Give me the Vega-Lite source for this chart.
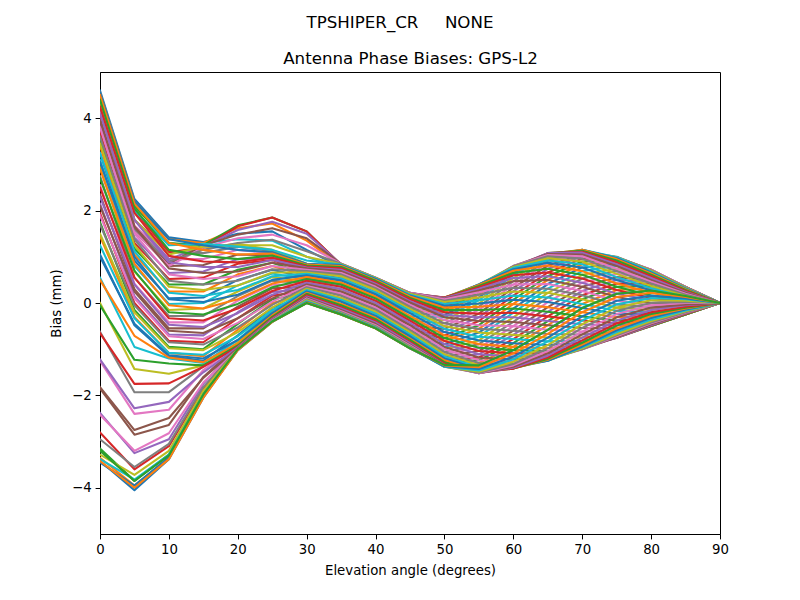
{"$schema":"https://vega.github.io/schema/vega-lite/v6.json","width":620,"height":462,"autosize":"none","padding":{"left":100,"top":72,"right":80,"bottom":66},"background":"white",
"title":{"text":"TPSHIPER_CR\u00a0\u00a0\u00a0\u00a0\u00a0NONE","anchor":"middle","frame":"group","dx":-10,"offset":18,"font":"DejaVu Sans","fontSize":16.67,"fontWeight":"normal","color":"black"},
"config":{"font":"DejaVu Sans","view":{"stroke":"black","strokeWidth":1}},
"data":{"values":[
{"k":0,"e":0,"b":-3.42},{"k":1,"e":0,"b":-3.35},{"k":2,"e":0,"b":-3.15},{"k":3,"e":0,"b":-2.8},{"k":4,"e":0,"b":-2.38},{"k":5,"e":0,"b":-1.85},{"k":6,"e":0,"b":-1.25},{"k":7,"e":0,"b":-0.62},{"k":8,"e":0,"b":0},{"k":9,"e":0,"b":0.55},{"k":10,"e":0,"b":1.05},{"k":11,"e":0,"b":1.45},{"k":12,"e":0,"b":1.75},{"k":13,"e":0,"b":1.95},{"k":14,"e":0,"b":2.15},{"k":15,"e":0,"b":2.35},{"k":16,"e":0,"b":2.55},{"k":17,"e":0,"b":2.75},{"k":18,"e":0,"b":2.95},{"k":19,"e":0,"b":3.1},{"k":20,"e":0,"b":3.25},{"k":21,"e":0,"b":3.4},{"k":22,"e":0,"b":3.55},{"k":23,"e":0,"b":3.7},{"k":24,"e":0,"b":3.85},{"k":25,"e":0,"b":4.0},{"k":26,"e":0,"b":4.15},{"k":27,"e":0,"b":4.3},{"k":28,"e":0,"b":4.4},{"k":29,"e":0,"b":4.5},{"k":30,"e":0,"b":4.6},{"k":31,"e":0,"b":4.55},{"k":32,"e":0,"b":4.5},{"k":33,"e":0,"b":4.4},{"k":34,"e":0,"b":4.3},{"k":35,"e":0,"b":4.25},{"k":36,"e":0,"b":4.2},{"k":37,"e":0,"b":4.25},{"k":38,"e":0,"b":4.35},{"k":39,"e":0,"b":4.45},{"k":40,"e":0,"b":4.55},{"k":41,"e":0,"b":4.5},{"k":42,"e":0,"b":4.4},{"k":43,"e":0,"b":4.25},{"k":44,"e":0,"b":4.1},{"k":45,"e":0,"b":3.95},{"k":46,"e":0,"b":3.8},{"k":47,"e":0,"b":3.6},{"k":48,"e":0,"b":3.45},{"k":49,"e":0,"b":3.25},{"k":50,"e":0,"b":3.05},{"k":51,"e":0,"b":2.9},{"k":52,"e":0,"b":2.7},{"k":53,"e":0,"b":2.5},{"k":54,"e":0,"b":2.3},{"k":55,"e":0,"b":2.1},{"k":56,"e":0,"b":1.9},{"k":57,"e":0,"b":1.7},{"k":58,"e":0,"b":1.5},{"k":59,"e":0,"b":1.25},{"k":60,"e":0,"b":1.0},{"k":61,"e":0,"b":0.5},{"k":62,"e":0,"b":-0.05},{"k":63,"e":0,"b":-0.65},{"k":64,"e":0,"b":-1.22},{"k":65,"e":0,"b":-1.82},{"k":66,"e":0,"b":-2.42},{"k":67,"e":0,"b":-2.95},{"k":68,"e":0,"b":-3.28},{"k":69,"e":0,"b":-3.38},{"k":70,"e":0,"b":-3.45},{"k":71,"e":0,"b":-3.42},{"k":72,"e":0,"b":-3.2},
{"k":0,"e":5,"b":-4.05},{"k":1,"e":5,"b":-3.95},{"k":2,"e":5,"b":-3.85},{"k":3,"e":5,"b":-3.6},{"k":4,"e":5,"b":-3.25},{"k":5,"e":5,"b":-2.85},{"k":6,"e":5,"b":-2.4},{"k":7,"e":5,"b":-1.93},{"k":8,"e":5,"b":-1.43},{"k":9,"e":5,"b":-0.95},{"k":10,"e":5,"b":-0.48},{"k":11,"e":5,"b":-0.3},{"k":12,"e":5,"b":-0.15},{"k":13,"e":5,"b":0},{"k":14,"e":5,"b":0.15},{"k":15,"e":5,"b":0.3},{"k":16,"e":5,"b":0.42},{"k":17,"e":5,"b":0.55},{"k":18,"e":5,"b":0.68},{"k":19,"e":5,"b":0.8},{"k":20,"e":5,"b":0.92},{"k":21,"e":5,"b":1.05},{"k":22,"e":5,"b":1.18},{"k":23,"e":5,"b":1.3},{"k":24,"e":5,"b":1.42},{"k":25,"e":5,"b":1.55},{"k":26,"e":5,"b":1.68},{"k":27,"e":5,"b":1.8},{"k":28,"e":5,"b":1.95},{"k":29,"e":5,"b":2.1},{"k":30,"e":5,"b":2.25},{"k":31,"e":5,"b":2.2},{"k":32,"e":5,"b":2.1},{"k":33,"e":5,"b":2.0},{"k":34,"e":5,"b":1.8},{"k":35,"e":5,"b":1.65},{"k":36,"e":5,"b":1.55},{"k":37,"e":5,"b":1.6},{"k":38,"e":5,"b":1.8},{"k":39,"e":5,"b":2.0},{"k":40,"e":5,"b":2.2},{"k":41,"e":5,"b":2.15},{"k":42,"e":5,"b":2.05},{"k":43,"e":5,"b":1.95},{"k":44,"e":5,"b":1.8},{"k":45,"e":5,"b":1.65},{"k":46,"e":5,"b":1.5},{"k":47,"e":5,"b":1.38},{"k":48,"e":5,"b":1.25},{"k":49,"e":5,"b":1.12},{"k":50,"e":5,"b":1.0},{"k":51,"e":5,"b":0.85},{"k":52,"e":5,"b":0.7},{"k":53,"e":5,"b":0.55},{"k":54,"e":5,"b":0.4},{"k":55,"e":5,"b":0.25},{"k":56,"e":5,"b":0.1},{"k":57,"e":5,"b":-0.05},{"k":58,"e":5,"b":-0.2},{"k":59,"e":5,"b":-0.33},{"k":60,"e":5,"b":-0.45},{"k":61,"e":5,"b":-0.71},{"k":62,"e":5,"b":-1.23},{"k":63,"e":5,"b":-1.75},{"k":64,"e":5,"b":-2.28},{"k":65,"e":5,"b":-2.75},{"k":66,"e":5,"b":-3.2},{"k":67,"e":5,"b":-3.55},{"k":68,"e":5,"b":-3.72},{"k":69,"e":5,"b":-3.82},{"k":70,"e":5,"b":-3.95},{"k":71,"e":5,"b":-4.0},{"k":72,"e":5,"b":-3.85},
{"k":0,"e":10,"b":-3.38},{"k":1,"e":10,"b":-3.35},{"k":2,"e":10,"b":-3.28},{"k":3,"e":10,"b":-3.1},{"k":4,"e":10,"b":-2.95},{"k":5,"e":10,"b":-2.64},{"k":6,"e":10,"b":-2.31},{"k":7,"e":10,"b":-1.93},{"k":8,"e":10,"b":-1.53},{"k":9,"e":10,"b":-1.2},{"k":10,"e":10,"b":-1.15},{"k":11,"e":10,"b":-1.08},{"k":12,"e":10,"b":-0.95},{"k":13,"e":10,"b":-0.82},{"k":14,"e":10,"b":-0.68},{"k":15,"e":10,"b":-0.55},{"k":16,"e":10,"b":-0.42},{"k":17,"e":10,"b":-0.28},{"k":18,"e":10,"b":-0.15},{"k":19,"e":10,"b":-0.02},{"k":20,"e":10,"b":0.1},{"k":21,"e":10,"b":0.25},{"k":22,"e":10,"b":0.4},{"k":23,"e":10,"b":0.52},{"k":24,"e":10,"b":0.65},{"k":25,"e":10,"b":0.8},{"k":26,"e":10,"b":0.95},{"k":27,"e":10,"b":1.1},{"k":28,"e":10,"b":1.3},{"k":29,"e":10,"b":1.4},{"k":30,"e":10,"b":1.42},{"k":31,"e":10,"b":1.38},{"k":32,"e":10,"b":1.3},{"k":33,"e":10,"b":1.1},{"k":34,"e":10,"b":0.95},{"k":35,"e":10,"b":0.85},{"k":36,"e":10,"b":0.8},{"k":37,"e":10,"b":0.9},{"k":38,"e":10,"b":1.05},{"k":39,"e":10,"b":1.25},{"k":40,"e":10,"b":1.38},{"k":41,"e":10,"b":1.3},{"k":42,"e":10,"b":1.15},{"k":43,"e":10,"b":1.02},{"k":44,"e":10,"b":0.88},{"k":45,"e":10,"b":0.75},{"k":46,"e":10,"b":0.62},{"k":47,"e":10,"b":0.48},{"k":48,"e":10,"b":0.35},{"k":49,"e":10,"b":0.22},{"k":50,"e":10,"b":0.08},{"k":51,"e":10,"b":-0.05},{"k":52,"e":10,"b":-0.2},{"k":53,"e":10,"b":-0.33},{"k":54,"e":10,"b":-0.47},{"k":55,"e":10,"b":-0.6},{"k":56,"e":10,"b":-0.72},{"k":57,"e":10,"b":-0.85},{"k":58,"e":10,"b":-0.98},{"k":59,"e":10,"b":-1.08},{"k":60,"e":10,"b":-1.13},{"k":61,"e":10,"b":-1.18},{"k":62,"e":10,"b":-1.31},{"k":63,"e":10,"b":-1.74},{"k":64,"e":10,"b":-2.14},{"k":65,"e":10,"b":-2.49},{"k":66,"e":10,"b":-2.82},{"k":67,"e":10,"b":-3.05},{"k":68,"e":10,"b":-3.2},{"k":69,"e":10,"b":-3.28},{"k":70,"e":10,"b":-3.34},{"k":71,"e":10,"b":-3.38},{"k":72,"e":10,"b":-3.3},
{"k":0,"e":15,"b":-2.05},{"k":1,"e":15,"b":-2.0},{"k":2,"e":15,"b":-1.95},{"k":3,"e":15,"b":-1.85},{"k":4,"e":15,"b":-1.75},{"k":5,"e":15,"b":-1.6},{"k":6,"e":15,"b":-1.45},{"k":7,"e":15,"b":-1.37},{"k":8,"e":15,"b":-1.35},{"k":9,"e":15,"b":-1.3},{"k":10,"e":15,"b":-1.25},{"k":11,"e":15,"b":-1.15},{"k":12,"e":15,"b":-1.0},{"k":13,"e":15,"b":-0.85},{"k":14,"e":15,"b":-0.7},{"k":15,"e":15,"b":-0.55},{"k":16,"e":15,"b":-0.42},{"k":17,"e":15,"b":-0.28},{"k":18,"e":15,"b":-0.12},{"k":19,"e":15,"b":0},{"k":20,"e":15,"b":0.12},{"k":21,"e":15,"b":0.25},{"k":22,"e":15,"b":0.4},{"k":23,"e":15,"b":0.55},{"k":24,"e":15,"b":0.68},{"k":25,"e":15,"b":0.82},{"k":26,"e":15,"b":0.95},{"k":27,"e":15,"b":1.08},{"k":28,"e":15,"b":1.2},{"k":29,"e":15,"b":1.3},{"k":30,"e":15,"b":1.32},{"k":31,"e":15,"b":1.3},{"k":32,"e":15,"b":1.25},{"k":33,"e":15,"b":1.2},{"k":34,"e":15,"b":1.22},{"k":35,"e":15,"b":1.25},{"k":36,"e":15,"b":1.2},{"k":37,"e":15,"b":1.15},{"k":38,"e":15,"b":1.22},{"k":39,"e":15,"b":1.28},{"k":40,"e":15,"b":1.25},{"k":41,"e":15,"b":1.15},{"k":42,"e":15,"b":1.02},{"k":43,"e":15,"b":0.9},{"k":44,"e":15,"b":0.78},{"k":45,"e":15,"b":0.65},{"k":46,"e":15,"b":0.52},{"k":47,"e":15,"b":0.4},{"k":48,"e":15,"b":0.28},{"k":49,"e":15,"b":0.15},{"k":50,"e":15,"b":0.02},{"k":51,"e":15,"b":-0.12},{"k":52,"e":15,"b":-0.25},{"k":53,"e":15,"b":-0.38},{"k":54,"e":15,"b":-0.52},{"k":55,"e":15,"b":-0.65},{"k":56,"e":15,"b":-0.78},{"k":57,"e":15,"b":-0.9},{"k":58,"e":15,"b":-1.02},{"k":59,"e":15,"b":-1.12},{"k":60,"e":15,"b":-1.2},{"k":61,"e":15,"b":-1.28},{"k":62,"e":15,"b":-1.35},{"k":63,"e":15,"b":-1.38},{"k":64,"e":15,"b":-1.5},{"k":65,"e":15,"b":-1.62},{"k":66,"e":15,"b":-1.72},{"k":67,"e":15,"b":-1.82},{"k":68,"e":15,"b":-1.9},{"k":69,"e":15,"b":-1.98},{"k":70,"e":15,"b":-2.02},{"k":71,"e":15,"b":-2.05},{"k":72,"e":15,"b":-1.98},
{"k":0,"e":20,"b":-1.0},{"k":1,"e":20,"b":-0.98},{"k":2,"e":20,"b":-0.95},{"k":3,"e":20,"b":-0.95},{"k":4,"e":20,"b":-0.93},{"k":5,"e":20,"b":-0.92},{"k":6,"e":20,"b":-0.9},{"k":7,"e":20,"b":-0.88},{"k":8,"e":20,"b":-0.85},{"k":9,"e":20,"b":-0.8},{"k":10,"e":20,"b":-0.7},{"k":11,"e":20,"b":-0.58},{"k":12,"e":20,"b":-0.45},{"k":13,"e":20,"b":-0.33},{"k":14,"e":20,"b":-0.2},{"k":15,"e":20,"b":-0.08},{"k":16,"e":20,"b":0.05},{"k":17,"e":20,"b":0.15},{"k":18,"e":20,"b":0.25},{"k":19,"e":20,"b":0.38},{"k":20,"e":20,"b":0.5},{"k":21,"e":20,"b":0.62},{"k":22,"e":20,"b":0.72},{"k":23,"e":20,"b":0.85},{"k":24,"e":20,"b":0.95},{"k":25,"e":20,"b":1.05},{"k":26,"e":20,"b":1.15},{"k":27,"e":20,"b":1.22},{"k":28,"e":20,"b":1.28},{"k":29,"e":20,"b":1.38},{"k":30,"e":20,"b":1.5},{"k":31,"e":20,"b":1.62},{"k":32,"e":20,"b":1.68},{"k":33,"e":20,"b":1.66},{"k":34,"e":20,"b":1.58},{"k":35,"e":20,"b":1.48},{"k":36,"e":20,"b":1.4},{"k":37,"e":20,"b":1.3},{"k":38,"e":20,"b":1.25},{"k":39,"e":20,"b":1.22},{"k":40,"e":20,"b":1.15},{"k":41,"e":20,"b":1.05},{"k":42,"e":20,"b":0.95},{"k":43,"e":20,"b":0.88},{"k":44,"e":20,"b":0.78},{"k":45,"e":20,"b":0.68},{"k":46,"e":20,"b":0.58},{"k":47,"e":20,"b":0.48},{"k":48,"e":20,"b":0.38},{"k":49,"e":20,"b":0.28},{"k":50,"e":20,"b":0.18},{"k":51,"e":20,"b":0.08},{"k":52,"e":20,"b":-0.02},{"k":53,"e":20,"b":-0.12},{"k":54,"e":20,"b":-0.22},{"k":55,"e":20,"b":-0.33},{"k":56,"e":20,"b":-0.43},{"k":57,"e":20,"b":-0.53},{"k":58,"e":20,"b":-0.63},{"k":59,"e":20,"b":-0.72},{"k":60,"e":20,"b":-0.8},{"k":61,"e":20,"b":-0.88},{"k":62,"e":20,"b":-0.92},{"k":63,"e":20,"b":-0.95},{"k":64,"e":20,"b":-0.96},{"k":65,"e":20,"b":-0.98},{"k":66,"e":20,"b":-1.0},{"k":67,"e":20,"b":-1.0},{"k":68,"e":20,"b":-1.0},{"k":69,"e":20,"b":-1.02},{"k":70,"e":20,"b":-1.02},{"k":71,"e":20,"b":-1.02},{"k":72,"e":20,"b":-1.0},
{"k":0,"e":25,"b":-0.4},{"k":1,"e":25,"b":-0.4},{"k":2,"e":25,"b":-0.4},{"k":3,"e":25,"b":-0.38},{"k":4,"e":25,"b":-0.36},{"k":5,"e":25,"b":-0.33},{"k":6,"e":25,"b":-0.3},{"k":7,"e":25,"b":-0.25},{"k":8,"e":25,"b":-0.2},{"k":9,"e":25,"b":-0.15},{"k":10,"e":25,"b":-0.1},{"k":11,"e":25,"b":0},{"k":12,"e":25,"b":0.08},{"k":13,"e":25,"b":0.16},{"k":14,"e":25,"b":0.24},{"k":15,"e":25,"b":0.32},{"k":16,"e":25,"b":0.4},{"k":17,"e":25,"b":0.48},{"k":18,"e":25,"b":0.56},{"k":19,"e":25,"b":0.64},{"k":20,"e":25,"b":0.72},{"k":21,"e":25,"b":0.8},{"k":22,"e":25,"b":0.87},{"k":23,"e":25,"b":0.93},{"k":24,"e":25,"b":0.98},{"k":25,"e":25,"b":1.03},{"k":26,"e":25,"b":1.08},{"k":27,"e":25,"b":1.12},{"k":28,"e":25,"b":1.15},{"k":29,"e":25,"b":1.35},{"k":30,"e":25,"b":1.55},{"k":31,"e":25,"b":1.72},{"k":32,"e":25,"b":1.85},{"k":33,"e":25,"b":1.85},{"k":34,"e":25,"b":1.76},{"k":35,"e":25,"b":1.62},{"k":36,"e":25,"b":1.48},{"k":37,"e":25,"b":1.37},{"k":38,"e":25,"b":1.25},{"k":39,"e":25,"b":1.15},{"k":40,"e":25,"b":1.1},{"k":41,"e":25,"b":1.07},{"k":42,"e":25,"b":1.03},{"k":43,"e":25,"b":0.98},{"k":44,"e":25,"b":0.93},{"k":45,"e":25,"b":0.87},{"k":46,"e":25,"b":0.8},{"k":47,"e":25,"b":0.73},{"k":48,"e":25,"b":0.66},{"k":49,"e":25,"b":0.58},{"k":50,"e":25,"b":0.5},{"k":51,"e":25,"b":0.42},{"k":52,"e":25,"b":0.34},{"k":53,"e":25,"b":0.26},{"k":54,"e":25,"b":0.18},{"k":55,"e":25,"b":0.1},{"k":56,"e":25,"b":0.03},{"k":57,"e":25,"b":-0.04},{"k":58,"e":25,"b":-0.1},{"k":59,"e":25,"b":-0.16},{"k":60,"e":25,"b":-0.22},{"k":61,"e":25,"b":-0.27},{"k":62,"e":25,"b":-0.3},{"k":63,"e":25,"b":-0.33},{"k":64,"e":25,"b":-0.35},{"k":65,"e":25,"b":-0.37},{"k":66,"e":25,"b":-0.38},{"k":67,"e":25,"b":-0.39},{"k":68,"e":25,"b":-0.4},{"k":69,"e":25,"b":-0.4},{"k":70,"e":25,"b":-0.41},{"k":71,"e":25,"b":-0.41},{"k":72,"e":25,"b":-0.4},
{"k":0,"e":30,"b":0},{"k":1,"e":30,"b":0},{"k":2,"e":30,"b":0.01},{"k":3,"e":30,"b":0.02},{"k":4,"e":30,"b":0.03},{"k":5,"e":30,"b":0.05},{"k":6,"e":30,"b":0.06},{"k":7,"e":30,"b":0.08},{"k":8,"e":30,"b":0.1},{"k":9,"e":30,"b":0.12},{"k":10,"e":30,"b":0.15},{"k":11,"e":30,"b":0.18},{"k":12,"e":30,"b":0.22},{"k":13,"e":30,"b":0.26},{"k":14,"e":30,"b":0.3},{"k":15,"e":30,"b":0.35},{"k":16,"e":30,"b":0.39},{"k":17,"e":30,"b":0.43},{"k":18,"e":30,"b":0.47},{"k":19,"e":30,"b":0.51},{"k":20,"e":30,"b":0.55},{"k":21,"e":30,"b":0.59},{"k":22,"e":30,"b":0.63},{"k":23,"e":30,"b":0.67},{"k":24,"e":30,"b":0.71},{"k":25,"e":30,"b":0.75},{"k":26,"e":30,"b":0.78},{"k":27,"e":30,"b":0.81},{"k":28,"e":30,"b":0.85},{"k":29,"e":30,"b":1.0},{"k":30,"e":30,"b":1.15},{"k":31,"e":30,"b":1.35},{"k":32,"e":30,"b":1.55},{"k":33,"e":30,"b":1.55},{"k":34,"e":30,"b":1.5},{"k":35,"e":30,"b":1.4},{"k":36,"e":30,"b":1.25},{"k":37,"e":30,"b":1.12},{"k":38,"e":30,"b":1.0},{"k":39,"e":30,"b":0.92},{"k":40,"e":30,"b":0.85},{"k":41,"e":30,"b":0.83},{"k":42,"e":30,"b":0.81},{"k":43,"e":30,"b":0.79},{"k":44,"e":30,"b":0.77},{"k":45,"e":30,"b":0.75},{"k":46,"e":30,"b":0.72},{"k":47,"e":30,"b":0.69},{"k":48,"e":30,"b":0.66},{"k":49,"e":30,"b":0.63},{"k":50,"e":30,"b":0.6},{"k":51,"e":30,"b":0.56},{"k":52,"e":30,"b":0.52},{"k":53,"e":30,"b":0.48},{"k":54,"e":30,"b":0.44},{"k":55,"e":30,"b":0.4},{"k":56,"e":30,"b":0.37},{"k":57,"e":30,"b":0.34},{"k":58,"e":30,"b":0.31},{"k":59,"e":30,"b":0.28},{"k":60,"e":30,"b":0.25},{"k":61,"e":30,"b":0.22},{"k":62,"e":30,"b":0.2},{"k":63,"e":30,"b":0.17},{"k":64,"e":30,"b":0.14},{"k":65,"e":30,"b":0.12},{"k":66,"e":30,"b":0.1},{"k":67,"e":30,"b":0.08},{"k":68,"e":30,"b":0.06},{"k":69,"e":30,"b":0.04},{"k":70,"e":30,"b":0.02},{"k":71,"e":30,"b":0.01},{"k":72,"e":30,"b":0},
{"k":0,"e":35,"b":-0.25},{"k":1,"e":35,"b":-0.25},{"k":2,"e":35,"b":-0.24},{"k":3,"e":35,"b":-0.23},{"k":4,"e":35,"b":-0.22},{"k":5,"e":35,"b":-0.2},{"k":6,"e":35,"b":-0.18},{"k":7,"e":35,"b":-0.15},{"k":8,"e":35,"b":-0.12},{"k":9,"e":35,"b":-0.09},{"k":10,"e":35,"b":-0.05},{"k":11,"e":35,"b":-0.02},{"k":12,"e":35,"b":0.03},{"k":13,"e":35,"b":0.07},{"k":14,"e":35,"b":0.11},{"k":15,"e":35,"b":0.16},{"k":16,"e":35,"b":0.2},{"k":17,"e":35,"b":0.25},{"k":18,"e":35,"b":0.3},{"k":19,"e":35,"b":0.35},{"k":20,"e":35,"b":0.4},{"k":21,"e":35,"b":0.44},{"k":22,"e":35,"b":0.49},{"k":23,"e":35,"b":0.53},{"k":24,"e":35,"b":0.58},{"k":25,"e":35,"b":0.62},{"k":26,"e":35,"b":0.65},{"k":27,"e":35,"b":0.69},{"k":28,"e":35,"b":0.72},{"k":29,"e":35,"b":0.75},{"k":30,"e":35,"b":0.78},{"k":31,"e":35,"b":0.8},{"k":32,"e":35,"b":0.82},{"k":33,"e":35,"b":0.83},{"k":34,"e":35,"b":0.84},{"k":35,"e":35,"b":0.85},{"k":36,"e":35,"b":0.85},{"k":37,"e":35,"b":0.85},{"k":38,"e":35,"b":0.84},{"k":39,"e":35,"b":0.83},{"k":40,"e":35,"b":0.82},{"k":41,"e":35,"b":0.8},{"k":42,"e":35,"b":0.78},{"k":43,"e":35,"b":0.75},{"k":44,"e":35,"b":0.72},{"k":45,"e":35,"b":0.69},{"k":46,"e":35,"b":0.65},{"k":47,"e":35,"b":0.62},{"k":48,"e":35,"b":0.58},{"k":49,"e":35,"b":0.53},{"k":50,"e":35,"b":0.49},{"k":51,"e":35,"b":0.44},{"k":52,"e":35,"b":0.4},{"k":53,"e":35,"b":0.35},{"k":54,"e":35,"b":0.3},{"k":55,"e":35,"b":0.25},{"k":56,"e":35,"b":0.2},{"k":57,"e":35,"b":0.16},{"k":58,"e":35,"b":0.11},{"k":59,"e":35,"b":0.07},{"k":60,"e":35,"b":0.03},{"k":61,"e":35,"b":-0.02},{"k":62,"e":35,"b":-0.05},{"k":63,"e":35,"b":-0.09},{"k":64,"e":35,"b":-0.12},{"k":65,"e":35,"b":-0.15},{"k":66,"e":35,"b":-0.18},{"k":67,"e":35,"b":-0.2},{"k":68,"e":35,"b":-0.22},{"k":69,"e":35,"b":-0.23},{"k":70,"e":35,"b":-0.24},{"k":71,"e":35,"b":-0.25},{"k":72,"e":35,"b":-0.25},
{"k":0,"e":40,"b":-0.55},{"k":1,"e":40,"b":-0.55},{"k":2,"e":40,"b":-0.54},{"k":3,"e":40,"b":-0.53},{"k":4,"e":40,"b":-0.52},{"k":5,"e":40,"b":-0.5},{"k":6,"e":40,"b":-0.48},{"k":7,"e":40,"b":-0.45},{"k":8,"e":40,"b":-0.42},{"k":9,"e":40,"b":-0.39},{"k":10,"e":40,"b":-0.35},{"k":11,"e":40,"b":-0.32},{"k":12,"e":40,"b":-0.28},{"k":13,"e":40,"b":-0.23},{"k":14,"e":40,"b":-0.19},{"k":15,"e":40,"b":-0.14},{"k":16,"e":40,"b":-0.1},{"k":17,"e":40,"b":-0.05},{"k":18,"e":40,"b":0},{"k":19,"e":40,"b":0.05},{"k":20,"e":40,"b":0.1},{"k":21,"e":40,"b":0.14},{"k":22,"e":40,"b":0.19},{"k":23,"e":40,"b":0.23},{"k":24,"e":40,"b":0.28},{"k":25,"e":40,"b":0.32},{"k":26,"e":40,"b":0.35},{"k":27,"e":40,"b":0.39},{"k":28,"e":40,"b":0.42},{"k":29,"e":40,"b":0.45},{"k":30,"e":40,"b":0.48},{"k":31,"e":40,"b":0.5},{"k":32,"e":40,"b":0.52},{"k":33,"e":40,"b":0.53},{"k":34,"e":40,"b":0.54},{"k":35,"e":40,"b":0.55},{"k":36,"e":40,"b":0.55},{"k":37,"e":40,"b":0.55},{"k":38,"e":40,"b":0.54},{"k":39,"e":40,"b":0.53},{"k":40,"e":40,"b":0.52},{"k":41,"e":40,"b":0.5},{"k":42,"e":40,"b":0.48},{"k":43,"e":40,"b":0.45},{"k":44,"e":40,"b":0.42},{"k":45,"e":40,"b":0.39},{"k":46,"e":40,"b":0.35},{"k":47,"e":40,"b":0.32},{"k":48,"e":40,"b":0.28},{"k":49,"e":40,"b":0.23},{"k":50,"e":40,"b":0.19},{"k":51,"e":40,"b":0.14},{"k":52,"e":40,"b":0.1},{"k":53,"e":40,"b":0.05},{"k":54,"e":40,"b":0},{"k":55,"e":40,"b":-0.05},{"k":56,"e":40,"b":-0.1},{"k":57,"e":40,"b":-0.14},{"k":58,"e":40,"b":-0.19},{"k":59,"e":40,"b":-0.23},{"k":60,"e":40,"b":-0.28},{"k":61,"e":40,"b":-0.32},{"k":62,"e":40,"b":-0.35},{"k":63,"e":40,"b":-0.39},{"k":64,"e":40,"b":-0.42},{"k":65,"e":40,"b":-0.45},{"k":66,"e":40,"b":-0.48},{"k":67,"e":40,"b":-0.5},{"k":68,"e":40,"b":-0.52},{"k":69,"e":40,"b":-0.53},{"k":70,"e":40,"b":-0.54},{"k":71,"e":40,"b":-0.55},{"k":72,"e":40,"b":-0.55},
{"k":0,"e":45,"b":-0.98},{"k":1,"e":45,"b":-0.97},{"k":2,"e":45,"b":-0.96},{"k":3,"e":45,"b":-0.94},{"k":4,"e":45,"b":-0.92},{"k":5,"e":45,"b":-0.9},{"k":6,"e":45,"b":-0.87},{"k":7,"e":45,"b":-0.84},{"k":8,"e":45,"b":-0.8},{"k":9,"e":45,"b":-0.77},{"k":10,"e":45,"b":-0.72},{"k":11,"e":45,"b":-0.68},{"k":12,"e":45,"b":-0.63},{"k":13,"e":45,"b":-0.59},{"k":14,"e":45,"b":-0.54},{"k":15,"e":45,"b":-0.48},{"k":16,"e":45,"b":-0.43},{"k":17,"e":45,"b":-0.38},{"k":18,"e":45,"b":-0.33},{"k":19,"e":45,"b":-0.28},{"k":20,"e":45,"b":-0.22},{"k":21,"e":45,"b":-0.17},{"k":22,"e":45,"b":-0.13},{"k":23,"e":45,"b":-0.08},{"k":24,"e":45,"b":-0.04},{"k":25,"e":45,"b":0.01},{"k":26,"e":45,"b":0.04},{"k":27,"e":45,"b":0.08},{"k":28,"e":45,"b":0.11},{"k":29,"e":45,"b":0.14},{"k":30,"e":45,"b":0.16},{"k":31,"e":45,"b":0.18},{"k":32,"e":45,"b":0.2},{"k":33,"e":45,"b":0.21},{"k":34,"e":45,"b":0.22},{"k":35,"e":45,"b":0.22},{"k":36,"e":45,"b":0.22},{"k":37,"e":45,"b":0.21},{"k":38,"e":45,"b":0.2},{"k":39,"e":45,"b":0.18},{"k":40,"e":45,"b":0.16},{"k":41,"e":45,"b":0.14},{"k":42,"e":45,"b":0.11},{"k":43,"e":45,"b":0.08},{"k":44,"e":45,"b":0.04},{"k":45,"e":45,"b":0.01},{"k":46,"e":45,"b":-0.04},{"k":47,"e":45,"b":-0.08},{"k":48,"e":45,"b":-0.13},{"k":49,"e":45,"b":-0.17},{"k":50,"e":45,"b":-0.22},{"k":51,"e":45,"b":-0.28},{"k":52,"e":45,"b":-0.33},{"k":53,"e":45,"b":-0.38},{"k":54,"e":45,"b":-0.43},{"k":55,"e":45,"b":-0.48},{"k":56,"e":45,"b":-0.54},{"k":57,"e":45,"b":-0.59},{"k":58,"e":45,"b":-0.63},{"k":59,"e":45,"b":-0.68},{"k":60,"e":45,"b":-0.72},{"k":61,"e":45,"b":-0.77},{"k":62,"e":45,"b":-0.8},{"k":63,"e":45,"b":-0.84},{"k":64,"e":45,"b":-0.87},{"k":65,"e":45,"b":-0.9},{"k":66,"e":45,"b":-0.92},{"k":67,"e":45,"b":-0.94},{"k":68,"e":45,"b":-0.96},{"k":69,"e":45,"b":-0.97},{"k":70,"e":45,"b":-0.98},{"k":71,"e":45,"b":-0.98},{"k":72,"e":45,"b":-0.98},
{"k":0,"e":50,"b":-1.34},{"k":1,"e":50,"b":-1.31},{"k":2,"e":50,"b":-1.28},{"k":3,"e":50,"b":-1.24},{"k":4,"e":50,"b":-1.2},{"k":5,"e":50,"b":-1.16},{"k":6,"e":50,"b":-1.11},{"k":7,"e":50,"b":-1.06},{"k":8,"e":50,"b":-1.0},{"k":9,"e":50,"b":-0.95},{"k":10,"e":50,"b":-0.89},{"k":11,"e":50,"b":-0.82},{"k":12,"e":50,"b":-0.76},{"k":13,"e":50,"b":-0.7},{"k":14,"e":50,"b":-0.63},{"k":15,"e":50,"b":-0.56},{"k":16,"e":50,"b":-0.5},{"k":17,"e":50,"b":-0.44},{"k":18,"e":50,"b":-0.37},{"k":19,"e":50,"b":-0.31},{"k":20,"e":50,"b":-0.26},{"k":21,"e":50,"b":-0.2},{"k":22,"e":50,"b":-0.15},{"k":23,"e":50,"b":-0.1},{"k":24,"e":50,"b":-0.06},{"k":25,"e":50,"b":-0.02},{"k":26,"e":50,"b":0.02},{"k":27,"e":50,"b":0.05},{"k":28,"e":50,"b":0.08},{"k":29,"e":50,"b":0.09},{"k":30,"e":50,"b":0.11},{"k":31,"e":50,"b":0.12},{"k":32,"e":50,"b":0.12},{"k":33,"e":50,"b":0.12},{"k":34,"e":50,"b":0.11},{"k":35,"e":50,"b":0.09},{"k":36,"e":50,"b":0.08},{"k":37,"e":50,"b":0.05},{"k":38,"e":50,"b":0.02},{"k":39,"e":50,"b":-0.02},{"k":40,"e":50,"b":-0.06},{"k":41,"e":50,"b":-0.1},{"k":42,"e":50,"b":-0.15},{"k":43,"e":50,"b":-0.2},{"k":44,"e":50,"b":-0.26},{"k":45,"e":50,"b":-0.31},{"k":46,"e":50,"b":-0.37},{"k":47,"e":50,"b":-0.44},{"k":48,"e":50,"b":-0.5},{"k":49,"e":50,"b":-0.56},{"k":50,"e":50,"b":-0.63},{"k":51,"e":50,"b":-0.7},{"k":52,"e":50,"b":-0.76},{"k":53,"e":50,"b":-0.82},{"k":54,"e":50,"b":-0.89},{"k":55,"e":50,"b":-0.95},{"k":56,"e":50,"b":-1.0},{"k":57,"e":50,"b":-1.06},{"k":58,"e":50,"b":-1.11},{"k":59,"e":50,"b":-1.16},{"k":60,"e":50,"b":-1.2},{"k":61,"e":50,"b":-1.24},{"k":62,"e":50,"b":-1.28},{"k":63,"e":50,"b":-1.31},{"k":64,"e":50,"b":-1.34},{"k":65,"e":50,"b":-1.35},{"k":66,"e":50,"b":-1.37},{"k":67,"e":50,"b":-1.38},{"k":68,"e":50,"b":-1.38},{"k":69,"e":50,"b":-1.38},{"k":70,"e":50,"b":-1.37},{"k":71,"e":50,"b":-1.35},{"k":72,"e":50,"b":-1.34},
{"k":0,"e":55,"b":-1.35},{"k":1,"e":55,"b":-1.3},{"k":2,"e":55,"b":-1.24},{"k":3,"e":55,"b":-1.18},{"k":4,"e":55,"b":-1.11},{"k":5,"e":55,"b":-1.04},{"k":6,"e":55,"b":-0.97},{"k":7,"e":55,"b":-0.89},{"k":8,"e":55,"b":-0.81},{"k":9,"e":55,"b":-0.73},{"k":10,"e":55,"b":-0.64},{"k":11,"e":55,"b":-0.56},{"k":12,"e":55,"b":-0.48},{"k":13,"e":55,"b":-0.39},{"k":14,"e":55,"b":-0.31},{"k":15,"e":55,"b":-0.23},{"k":16,"e":55,"b":-0.15},{"k":17,"e":55,"b":-0.08},{"k":18,"e":55,"b":-0.01},{"k":19,"e":55,"b":0.06},{"k":20,"e":55,"b":0.12},{"k":21,"e":55,"b":0.18},{"k":22,"e":55,"b":0.23},{"k":23,"e":55,"b":0.27},{"k":24,"e":55,"b":0.31},{"k":25,"e":55,"b":0.34},{"k":26,"e":55,"b":0.37},{"k":27,"e":55,"b":0.39},{"k":28,"e":55,"b":0.4},{"k":29,"e":55,"b":0.4},{"k":30,"e":55,"b":0.4},{"k":31,"e":55,"b":0.39},{"k":32,"e":55,"b":0.37},{"k":33,"e":55,"b":0.34},{"k":34,"e":55,"b":0.31},{"k":35,"e":55,"b":0.27},{"k":36,"e":55,"b":0.23},{"k":37,"e":55,"b":0.18},{"k":38,"e":55,"b":0.12},{"k":39,"e":55,"b":0.06},{"k":40,"e":55,"b":-0.01},{"k":41,"e":55,"b":-0.08},{"k":42,"e":55,"b":-0.15},{"k":43,"e":55,"b":-0.23},{"k":44,"e":55,"b":-0.31},{"k":45,"e":55,"b":-0.39},{"k":46,"e":55,"b":-0.48},{"k":47,"e":55,"b":-0.56},{"k":48,"e":55,"b":-0.64},{"k":49,"e":55,"b":-0.73},{"k":50,"e":55,"b":-0.81},{"k":51,"e":55,"b":-0.89},{"k":52,"e":55,"b":-0.97},{"k":53,"e":55,"b":-1.04},{"k":54,"e":55,"b":-1.11},{"k":55,"e":55,"b":-1.18},{"k":56,"e":55,"b":-1.24},{"k":57,"e":55,"b":-1.3},{"k":58,"e":55,"b":-1.35},{"k":59,"e":55,"b":-1.39},{"k":60,"e":55,"b":-1.43},{"k":61,"e":55,"b":-1.46},{"k":62,"e":55,"b":-1.49},{"k":63,"e":55,"b":-1.51},{"k":64,"e":55,"b":-1.52},{"k":65,"e":55,"b":-1.52},{"k":66,"e":55,"b":-1.52},{"k":67,"e":55,"b":-1.51},{"k":68,"e":55,"b":-1.49},{"k":69,"e":55,"b":-1.46},{"k":70,"e":55,"b":-1.43},{"k":71,"e":55,"b":-1.39},{"k":72,"e":55,"b":-1.35},
{"k":0,"e":60,"b":-1.02},{"k":1,"e":60,"b":-0.95},{"k":2,"e":60,"b":-0.87},{"k":3,"e":60,"b":-0.78},{"k":4,"e":60,"b":-0.69},{"k":5,"e":60,"b":-0.6},{"k":6,"e":60,"b":-0.5},{"k":7,"e":60,"b":-0.41},{"k":8,"e":60,"b":-0.31},{"k":9,"e":60,"b":-0.21},{"k":10,"e":60,"b":-0.12},{"k":11,"e":60,"b":-0.02},{"k":12,"e":60,"b":0.07},{"k":13,"e":60,"b":0.16},{"k":14,"e":60,"b":0.25},{"k":15,"e":60,"b":0.33},{"k":16,"e":60,"b":0.4},{"k":17,"e":60,"b":0.47},{"k":18,"e":60,"b":0.54},{"k":19,"e":60,"b":0.6},{"k":20,"e":60,"b":0.65},{"k":21,"e":60,"b":0.7},{"k":22,"e":60,"b":0.73},{"k":23,"e":60,"b":0.76},{"k":24,"e":60,"b":0.78},{"k":25,"e":60,"b":0.8},{"k":26,"e":60,"b":0.8},{"k":27,"e":60,"b":0.8},{"k":28,"e":60,"b":0.78},{"k":29,"e":60,"b":0.76},{"k":30,"e":60,"b":0.73},{"k":31,"e":60,"b":0.7},{"k":32,"e":60,"b":0.65},{"k":33,"e":60,"b":0.6},{"k":34,"e":60,"b":0.54},{"k":35,"e":60,"b":0.47},{"k":36,"e":60,"b":0.4},{"k":37,"e":60,"b":0.33},{"k":38,"e":60,"b":0.25},{"k":39,"e":60,"b":0.16},{"k":40,"e":60,"b":0.07},{"k":41,"e":60,"b":-0.02},{"k":42,"e":60,"b":-0.12},{"k":43,"e":60,"b":-0.21},{"k":44,"e":60,"b":-0.31},{"k":45,"e":60,"b":-0.41},{"k":46,"e":60,"b":-0.5},{"k":47,"e":60,"b":-0.6},{"k":48,"e":60,"b":-0.69},{"k":49,"e":60,"b":-0.78},{"k":50,"e":60,"b":-0.87},{"k":51,"e":60,"b":-0.95},{"k":52,"e":60,"b":-1.02},{"k":53,"e":60,"b":-1.09},{"k":54,"e":60,"b":-1.16},{"k":55,"e":60,"b":-1.22},{"k":56,"e":60,"b":-1.27},{"k":57,"e":60,"b":-1.32},{"k":58,"e":60,"b":-1.35},{"k":59,"e":60,"b":-1.38},{"k":60,"e":60,"b":-1.4},{"k":61,"e":60,"b":-1.42},{"k":62,"e":60,"b":-1.42},{"k":63,"e":60,"b":-1.42},{"k":64,"e":60,"b":-1.4},{"k":65,"e":60,"b":-1.38},{"k":66,"e":60,"b":-1.35},{"k":67,"e":60,"b":-1.32},{"k":68,"e":60,"b":-1.27},{"k":69,"e":60,"b":-1.22},{"k":70,"e":60,"b":-1.16},{"k":71,"e":60,"b":-1.09},{"k":72,"e":60,"b":-1.02},
{"k":0,"e":65,"b":-0.58},{"k":1,"e":65,"b":-0.48},{"k":2,"e":65,"b":-0.39},{"k":3,"e":65,"b":-0.29},{"k":4,"e":65,"b":-0.19},{"k":5,"e":65,"b":-0.09},{"k":6,"e":65,"b":0.02},{"k":7,"e":65,"b":0.12},{"k":8,"e":65,"b":0.22},{"k":9,"e":65,"b":0.31},{"k":10,"e":65,"b":0.41},{"k":11,"e":65,"b":0.5},{"k":12,"e":65,"b":0.58},{"k":13,"e":65,"b":0.66},{"k":14,"e":65,"b":0.74},{"k":15,"e":65,"b":0.81},{"k":16,"e":65,"b":0.87},{"k":17,"e":65,"b":0.92},{"k":18,"e":65,"b":0.97},{"k":19,"e":65,"b":1.01},{"k":20,"e":65,"b":1.04},{"k":21,"e":65,"b":1.06},{"k":22,"e":65,"b":1.08},{"k":23,"e":65,"b":1.08},{"k":24,"e":65,"b":1.08},{"k":25,"e":65,"b":1.06},{"k":26,"e":65,"b":1.04},{"k":27,"e":65,"b":1.01},{"k":28,"e":65,"b":0.97},{"k":29,"e":65,"b":0.92},{"k":30,"e":65,"b":0.87},{"k":31,"e":65,"b":0.81},{"k":32,"e":65,"b":0.74},{"k":33,"e":65,"b":0.66},{"k":34,"e":65,"b":0.58},{"k":35,"e":65,"b":0.5},{"k":36,"e":65,"b":0.41},{"k":37,"e":65,"b":0.31},{"k":38,"e":65,"b":0.22},{"k":39,"e":65,"b":0.12},{"k":40,"e":65,"b":0.02},{"k":41,"e":65,"b":-0.09},{"k":42,"e":65,"b":-0.19},{"k":43,"e":65,"b":-0.29},{"k":44,"e":65,"b":-0.39},{"k":45,"e":65,"b":-0.48},{"k":46,"e":65,"b":-0.58},{"k":47,"e":65,"b":-0.67},{"k":48,"e":65,"b":-0.75},{"k":49,"e":65,"b":-0.83},{"k":50,"e":65,"b":-0.91},{"k":51,"e":65,"b":-0.98},{"k":52,"e":65,"b":-1.04},{"k":53,"e":65,"b":-1.09},{"k":54,"e":65,"b":-1.14},{"k":55,"e":65,"b":-1.18},{"k":56,"e":65,"b":-1.21},{"k":57,"e":65,"b":-1.23},{"k":58,"e":65,"b":-1.25},{"k":59,"e":65,"b":-1.25},{"k":60,"e":65,"b":-1.25},{"k":61,"e":65,"b":-1.23},{"k":62,"e":65,"b":-1.21},{"k":63,"e":65,"b":-1.18},{"k":64,"e":65,"b":-1.14},{"k":65,"e":65,"b":-1.09},{"k":66,"e":65,"b":-1.04},{"k":67,"e":65,"b":-0.98},{"k":68,"e":65,"b":-0.91},{"k":69,"e":65,"b":-0.83},{"k":70,"e":65,"b":-0.75},{"k":71,"e":65,"b":-0.67},{"k":72,"e":65,"b":-0.58},
{"k":0,"e":70,"b":-0.11},{"k":1,"e":70,"b":-0.02},{"k":2,"e":70,"b":0.08},{"k":3,"e":70,"b":0.17},{"k":4,"e":70,"b":0.26},{"k":5,"e":70,"b":0.35},{"k":6,"e":70,"b":0.44},{"k":7,"e":70,"b":0.53},{"k":8,"e":70,"b":0.61},{"k":9,"e":70,"b":0.69},{"k":10,"e":70,"b":0.77},{"k":11,"e":70,"b":0.84},{"k":12,"e":70,"b":0.9},{"k":13,"e":70,"b":0.96},{"k":14,"e":70,"b":1.01},{"k":15,"e":70,"b":1.05},{"k":16,"e":70,"b":1.09},{"k":17,"e":70,"b":1.11},{"k":18,"e":70,"b":1.13},{"k":19,"e":70,"b":1.15},{"k":20,"e":70,"b":1.15},{"k":21,"e":70,"b":1.15},{"k":22,"e":70,"b":1.13},{"k":23,"e":70,"b":1.11},{"k":24,"e":70,"b":1.09},{"k":25,"e":70,"b":1.05},{"k":26,"e":70,"b":1.01},{"k":27,"e":70,"b":0.96},{"k":28,"e":70,"b":0.9},{"k":29,"e":70,"b":0.84},{"k":30,"e":70,"b":0.77},{"k":31,"e":70,"b":0.69},{"k":32,"e":70,"b":0.61},{"k":33,"e":70,"b":0.53},{"k":34,"e":70,"b":0.44},{"k":35,"e":70,"b":0.35},{"k":36,"e":70,"b":0.26},{"k":37,"e":70,"b":0.17},{"k":38,"e":70,"b":0.08},{"k":39,"e":70,"b":-0.02},{"k":40,"e":70,"b":-0.11},{"k":41,"e":70,"b":-0.2},{"k":42,"e":70,"b":-0.29},{"k":43,"e":70,"b":-0.38},{"k":44,"e":70,"b":-0.46},{"k":45,"e":70,"b":-0.54},{"k":46,"e":70,"b":-0.62},{"k":47,"e":70,"b":-0.68},{"k":48,"e":70,"b":-0.75},{"k":49,"e":70,"b":-0.81},{"k":50,"e":70,"b":-0.86},{"k":51,"e":70,"b":-0.9},{"k":52,"e":70,"b":-0.94},{"k":53,"e":70,"b":-0.96},{"k":54,"e":70,"b":-0.98},{"k":55,"e":70,"b":-1.0},{"k":56,"e":70,"b":-1.0},{"k":57,"e":70,"b":-1.0},{"k":58,"e":70,"b":-0.98},{"k":59,"e":70,"b":-0.96},{"k":60,"e":70,"b":-0.94},{"k":61,"e":70,"b":-0.9},{"k":62,"e":70,"b":-0.86},{"k":63,"e":70,"b":-0.81},{"k":64,"e":70,"b":-0.75},{"k":65,"e":70,"b":-0.68},{"k":66,"e":70,"b":-0.62},{"k":67,"e":70,"b":-0.54},{"k":68,"e":70,"b":-0.46},{"k":69,"e":70,"b":-0.38},{"k":70,"e":70,"b":-0.29},{"k":71,"e":70,"b":-0.2},{"k":72,"e":70,"b":-0.11},
{"k":0,"e":75,"b":0.2},{"k":1,"e":75,"b":0.28},{"k":2,"e":75,"b":0.35},{"k":3,"e":75,"b":0.42},{"k":4,"e":75,"b":0.5},{"k":5,"e":75,"b":0.56},{"k":6,"e":75,"b":0.63},{"k":7,"e":75,"b":0.69},{"k":8,"e":75,"b":0.74},{"k":9,"e":75,"b":0.8},{"k":10,"e":75,"b":0.84},{"k":11,"e":75,"b":0.88},{"k":12,"e":75,"b":0.92},{"k":13,"e":75,"b":0.95},{"k":14,"e":75,"b":0.97},{"k":15,"e":75,"b":0.99},{"k":16,"e":75,"b":0.99},{"k":17,"e":75,"b":1.0},{"k":18,"e":75,"b":0.99},{"k":19,"e":75,"b":0.99},{"k":20,"e":75,"b":0.97},{"k":21,"e":75,"b":0.95},{"k":22,"e":75,"b":0.92},{"k":23,"e":75,"b":0.88},{"k":24,"e":75,"b":0.84},{"k":25,"e":75,"b":0.8},{"k":26,"e":75,"b":0.74},{"k":27,"e":75,"b":0.69},{"k":28,"e":75,"b":0.63},{"k":29,"e":75,"b":0.56},{"k":30,"e":75,"b":0.5},{"k":31,"e":75,"b":0.42},{"k":32,"e":75,"b":0.35},{"k":33,"e":75,"b":0.28},{"k":34,"e":75,"b":0.2},{"k":35,"e":75,"b":0.13},{"k":36,"e":75,"b":0.05},{"k":37,"e":75,"b":-0.03},{"k":38,"e":75,"b":-0.1},{"k":39,"e":75,"b":-0.17},{"k":40,"e":75,"b":-0.24},{"k":41,"e":75,"b":-0.31},{"k":42,"e":75,"b":-0.38},{"k":43,"e":75,"b":-0.44},{"k":44,"e":75,"b":-0.49},{"k":45,"e":75,"b":-0.55},{"k":46,"e":75,"b":-0.59},{"k":47,"e":75,"b":-0.63},{"k":48,"e":75,"b":-0.67},{"k":49,"e":75,"b":-0.7},{"k":50,"e":75,"b":-0.72},{"k":51,"e":75,"b":-0.74},{"k":52,"e":75,"b":-0.75},{"k":53,"e":75,"b":-0.75},{"k":54,"e":75,"b":-0.75},{"k":55,"e":75,"b":-0.74},{"k":56,"e":75,"b":-0.72},{"k":57,"e":75,"b":-0.7},{"k":58,"e":75,"b":-0.67},{"k":59,"e":75,"b":-0.63},{"k":60,"e":75,"b":-0.59},{"k":61,"e":75,"b":-0.55},{"k":62,"e":75,"b":-0.49},{"k":63,"e":75,"b":-0.44},{"k":64,"e":75,"b":-0.38},{"k":65,"e":75,"b":-0.31},{"k":66,"e":75,"b":-0.24},{"k":67,"e":75,"b":-0.17},{"k":68,"e":75,"b":-0.1},{"k":69,"e":75,"b":-0.03},{"k":70,"e":75,"b":0.05},{"k":71,"e":75,"b":0.13},{"k":72,"e":75,"b":0.2},
{"k":0,"e":80,"b":0.27},{"k":1,"e":80,"b":0.32},{"k":2,"e":80,"b":0.37},{"k":3,"e":80,"b":0.42},{"k":4,"e":80,"b":0.46},{"k":5,"e":80,"b":0.5},{"k":6,"e":80,"b":0.54},{"k":7,"e":80,"b":0.58},{"k":8,"e":80,"b":0.61},{"k":9,"e":80,"b":0.64},{"k":10,"e":80,"b":0.66},{"k":11,"e":80,"b":0.68},{"k":12,"e":80,"b":0.7},{"k":13,"e":80,"b":0.71},{"k":14,"e":80,"b":0.72},{"k":15,"e":80,"b":0.72},{"k":16,"e":80,"b":0.72},{"k":17,"e":80,"b":0.71},{"k":18,"e":80,"b":0.7},{"k":19,"e":80,"b":0.68},{"k":20,"e":80,"b":0.66},{"k":21,"e":80,"b":0.64},{"k":22,"e":80,"b":0.61},{"k":23,"e":80,"b":0.58},{"k":24,"e":80,"b":0.54},{"k":25,"e":80,"b":0.5},{"k":26,"e":80,"b":0.46},{"k":27,"e":80,"b":0.42},{"k":28,"e":80,"b":0.37},{"k":29,"e":80,"b":0.32},{"k":30,"e":80,"b":0.27},{"k":31,"e":80,"b":0.22},{"k":32,"e":80,"b":0.16},{"k":33,"e":80,"b":0.11},{"k":34,"e":80,"b":0.06},{"k":35,"e":80,"b":0},{"k":36,"e":80,"b":-0.05},{"k":37,"e":80,"b":-0.1},{"k":38,"e":80,"b":-0.15},{"k":39,"e":80,"b":-0.2},{"k":40,"e":80,"b":-0.24},{"k":41,"e":80,"b":-0.28},{"k":42,"e":80,"b":-0.32},{"k":43,"e":80,"b":-0.36},{"k":44,"e":80,"b":-0.39},{"k":45,"e":80,"b":-0.42},{"k":46,"e":80,"b":-0.44},{"k":47,"e":80,"b":-0.46},{"k":48,"e":80,"b":-0.48},{"k":49,"e":80,"b":-0.49},{"k":50,"e":80,"b":-0.5},{"k":51,"e":80,"b":-0.5},{"k":52,"e":80,"b":-0.5},{"k":53,"e":80,"b":-0.49},{"k":54,"e":80,"b":-0.48},{"k":55,"e":80,"b":-0.46},{"k":56,"e":80,"b":-0.44},{"k":57,"e":80,"b":-0.42},{"k":58,"e":80,"b":-0.39},{"k":59,"e":80,"b":-0.36},{"k":60,"e":80,"b":-0.32},{"k":61,"e":80,"b":-0.28},{"k":62,"e":80,"b":-0.24},{"k":63,"e":80,"b":-0.2},{"k":64,"e":80,"b":-0.15},{"k":65,"e":80,"b":-0.1},{"k":66,"e":80,"b":-0.05},{"k":67,"e":80,"b":0},{"k":68,"e":80,"b":0.06},{"k":69,"e":80,"b":0.11},{"k":70,"e":80,"b":0.16},{"k":71,"e":80,"b":0.22},{"k":72,"e":80,"b":0.27},
{"k":0,"e":85,"b":0.15},{"k":1,"e":85,"b":0.18},{"k":2,"e":85,"b":0.2},{"k":3,"e":85,"b":0.22},{"k":4,"e":85,"b":0.24},{"k":5,"e":85,"b":0.26},{"k":6,"e":85,"b":0.28},{"k":7,"e":85,"b":0.3},{"k":8,"e":85,"b":0.31},{"k":9,"e":85,"b":0.32},{"k":10,"e":85,"b":0.33},{"k":11,"e":85,"b":0.34},{"k":12,"e":85,"b":0.35},{"k":13,"e":85,"b":0.35},{"k":14,"e":85,"b":0.35},{"k":15,"e":85,"b":0.35},{"k":16,"e":85,"b":0.35},{"k":17,"e":85,"b":0.34},{"k":18,"e":85,"b":0.33},{"k":19,"e":85,"b":0.32},{"k":20,"e":85,"b":0.31},{"k":21,"e":85,"b":0.3},{"k":22,"e":85,"b":0.28},{"k":23,"e":85,"b":0.26},{"k":24,"e":85,"b":0.24},{"k":25,"e":85,"b":0.22},{"k":26,"e":85,"b":0.2},{"k":27,"e":85,"b":0.18},{"k":28,"e":85,"b":0.15},{"k":29,"e":85,"b":0.13},{"k":30,"e":85,"b":0.1},{"k":31,"e":85,"b":0.08},{"k":32,"e":85,"b":0.05},{"k":33,"e":85,"b":0.02},{"k":34,"e":85,"b":0},{"k":35,"e":85,"b":-0.03},{"k":36,"e":85,"b":-0.05},{"k":37,"e":85,"b":-0.08},{"k":38,"e":85,"b":-0.1},{"k":39,"e":85,"b":-0.12},{"k":40,"e":85,"b":-0.14},{"k":41,"e":85,"b":-0.16},{"k":42,"e":85,"b":-0.18},{"k":43,"e":85,"b":-0.2},{"k":44,"e":85,"b":-0.21},{"k":45,"e":85,"b":-0.22},{"k":46,"e":85,"b":-0.23},{"k":47,"e":85,"b":-0.24},{"k":48,"e":85,"b":-0.25},{"k":49,"e":85,"b":-0.25},{"k":50,"e":85,"b":-0.25},{"k":51,"e":85,"b":-0.25},{"k":52,"e":85,"b":-0.25},{"k":53,"e":85,"b":-0.24},{"k":54,"e":85,"b":-0.23},{"k":55,"e":85,"b":-0.22},{"k":56,"e":85,"b":-0.21},{"k":57,"e":85,"b":-0.2},{"k":58,"e":85,"b":-0.18},{"k":59,"e":85,"b":-0.16},{"k":60,"e":85,"b":-0.14},{"k":61,"e":85,"b":-0.12},{"k":62,"e":85,"b":-0.1},{"k":63,"e":85,"b":-0.08},{"k":64,"e":85,"b":-0.05},{"k":65,"e":85,"b":-0.03},{"k":66,"e":85,"b":0},{"k":67,"e":85,"b":0.02},{"k":68,"e":85,"b":0.05},{"k":69,"e":85,"b":0.08},{"k":70,"e":85,"b":0.1},{"k":71,"e":85,"b":0.13},{"k":72,"e":85,"b":0.15},
{"k":0,"e":90,"b":0},{"k":1,"e":90,"b":0},{"k":2,"e":90,"b":0},{"k":3,"e":90,"b":0},{"k":4,"e":90,"b":0},{"k":5,"e":90,"b":0},{"k":6,"e":90,"b":0},{"k":7,"e":90,"b":0},{"k":8,"e":90,"b":0},{"k":9,"e":90,"b":0},{"k":10,"e":90,"b":0},{"k":11,"e":90,"b":0},{"k":12,"e":90,"b":0},{"k":13,"e":90,"b":0},{"k":14,"e":90,"b":0},{"k":15,"e":90,"b":0},{"k":16,"e":90,"b":0},{"k":17,"e":90,"b":0},{"k":18,"e":90,"b":0},{"k":19,"e":90,"b":0},{"k":20,"e":90,"b":0},{"k":21,"e":90,"b":0},{"k":22,"e":90,"b":0},{"k":23,"e":90,"b":0},{"k":24,"e":90,"b":0},{"k":25,"e":90,"b":0},{"k":26,"e":90,"b":0},{"k":27,"e":90,"b":0},{"k":28,"e":90,"b":0},{"k":29,"e":90,"b":0},{"k":30,"e":90,"b":0},{"k":31,"e":90,"b":0},{"k":32,"e":90,"b":0},{"k":33,"e":90,"b":0},{"k":34,"e":90,"b":0},{"k":35,"e":90,"b":0},{"k":36,"e":90,"b":0},{"k":37,"e":90,"b":0},{"k":38,"e":90,"b":0},{"k":39,"e":90,"b":0},{"k":40,"e":90,"b":0},{"k":41,"e":90,"b":0},{"k":42,"e":90,"b":0},{"k":43,"e":90,"b":0},{"k":44,"e":90,"b":0},{"k":45,"e":90,"b":0},{"k":46,"e":90,"b":0},{"k":47,"e":90,"b":0},{"k":48,"e":90,"b":0},{"k":49,"e":90,"b":0},{"k":50,"e":90,"b":0},{"k":51,"e":90,"b":0},{"k":52,"e":90,"b":0},{"k":53,"e":90,"b":0},{"k":54,"e":90,"b":0},{"k":55,"e":90,"b":0},{"k":56,"e":90,"b":0},{"k":57,"e":90,"b":0},{"k":58,"e":90,"b":0},{"k":59,"e":90,"b":0},{"k":60,"e":90,"b":0},{"k":61,"e":90,"b":0},{"k":62,"e":90,"b":0},{"k":63,"e":90,"b":0},{"k":64,"e":90,"b":0},{"k":65,"e":90,"b":0},{"k":66,"e":90,"b":0},{"k":67,"e":90,"b":0},{"k":68,"e":90,"b":0},{"k":69,"e":90,"b":0},{"k":70,"e":90,"b":0},{"k":71,"e":90,"b":0},{"k":72,"e":90,"b":0}
]},
"resolve":{"axis":{"x":"independent"}},
"layer":[
{"mark":{"type":"line","strokeWidth":2.08,"clip":true,"strokeCap":"square","strokeJoin":"round"},
"encoding":{
"x":{"field":"e","type":"quantitative","scale":{"domain":[0,90],"nice":false},"axis":{"title":"Elevation angle (degrees)","values":[0,10,20,30,40,50,60,70,80,90],"grid":false,"domainColor":"black","tickColor":"black","tickSize":4.9,"labelColor":"black","labelFontSize":13.3,"labelFont":"DejaVu Sans","titleFont":"DejaVu Sans","titleFontSize":13.3,"titleFontWeight":"normal","titleColor":"black","labelPadding":4,"titlePadding":7,"labelFlush":false}},
"y":{"field":"b","type":"quantitative","scale":{"domain":[-5,5],"nice":false,"zero":false},"axis":{"title":"Bias (mm)","values":[-4,-2,0,2,4],"labelExpr":"replace(datum.label,'-','−')","grid":false,"domainColor":"black","tickColor":"black","tickSize":4.9,"labelColor":"black","labelFontSize":13.3,"labelFont":"DejaVu Sans","titleFont":"DejaVu Sans","titleFontSize":13.3,"titleFontWeight":"normal","titleColor":"black","labelPadding":4,"titlePadding":8}},
"color":{"field":"k","type":"nominal","sort":null,"legend":null,"scale":{"range":["#1f77b4","#ff7f0e","#2ca02c","#d62728","#9467bd","#8c564b","#e377c2","#7f7f7f","#bcbd22","#17becf"]}}
}},
{"transform":[{"filter":"datum.k==0 && datum.e==90"}],
"mark":{"type":"point","opacity":0},
"encoding":{
"x":{"field":"e","type":"quantitative","scale":{"domain":[0,90],"nice":false},"axis":{"orient":"top","title":"Antenna Phase Biases: GPS-L2","ticks":false,"labels":false,"domain":false,"grid":false,"titleFont":"DejaVu Sans","titleFontSize":16.67,"titleFontWeight":"normal","titleColor":"black","titlePadding":5}},
"y":{"field":"b","type":"quantitative","scale":{"domain":[-5,5],"nice":false,"zero":false}}
}}
]}
